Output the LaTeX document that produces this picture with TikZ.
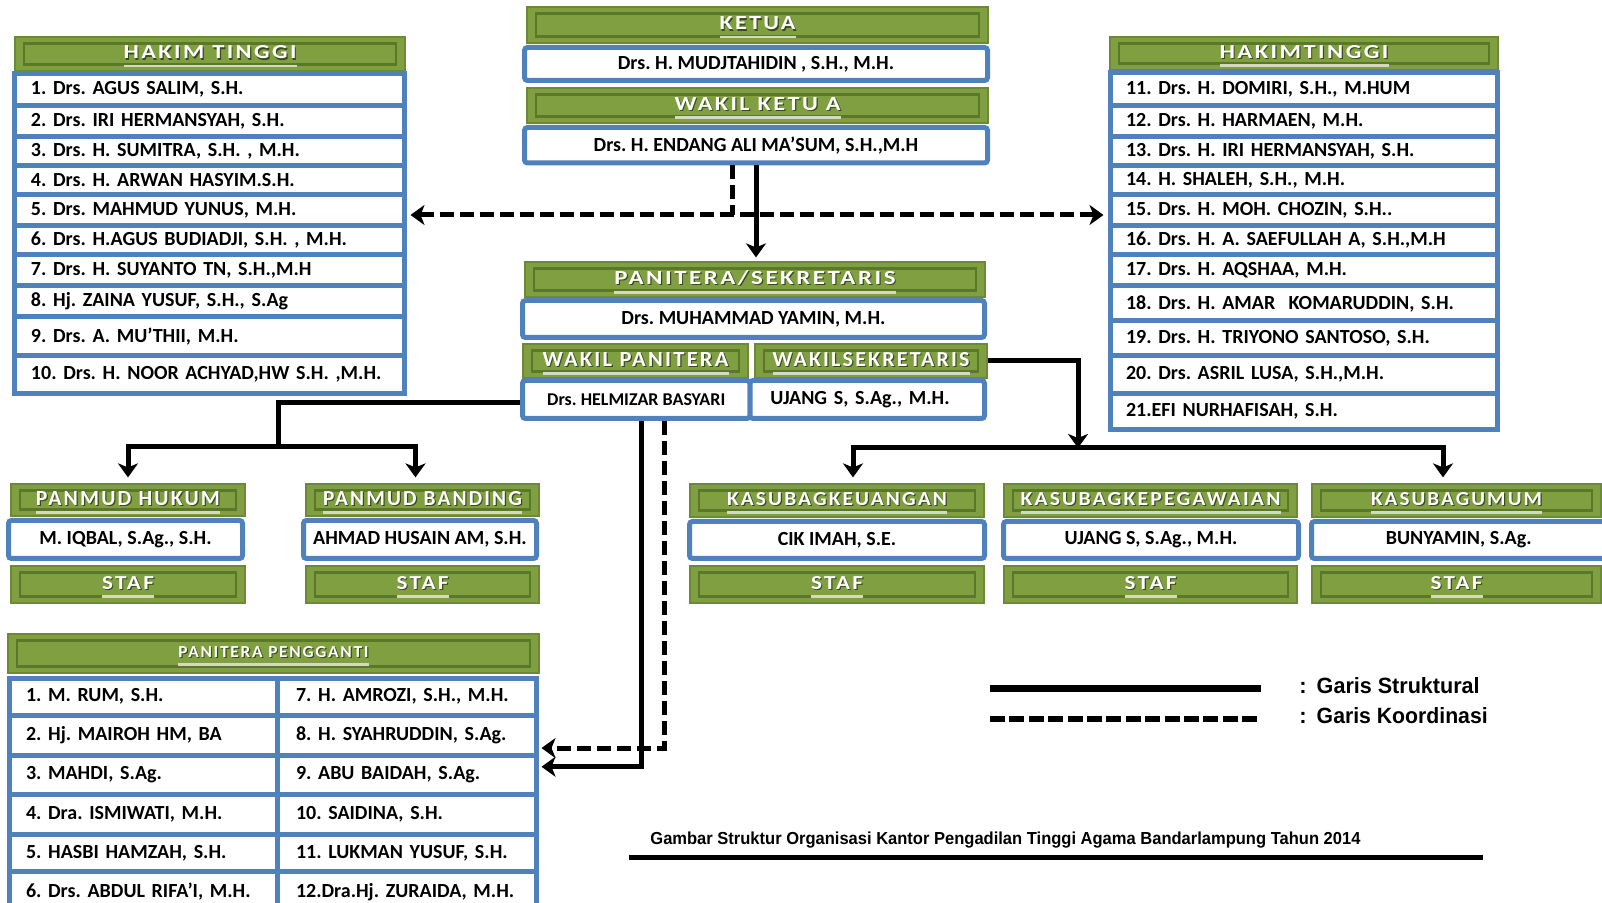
\documentclass[tikz,border=0pt]{standalone}
\usepackage{fontspec}
\usepackage{graphicx}
\setmainfont{Carlito}
\newfontfamily\legfont{Liberation Sans}
\usetikzlibrary{arrows.meta}
\frenchspacing
\definecolor{hgreen}{HTML}{7F9F40}
\definecolor{hdark}{HTML}{5B782A}
\definecolor{hedge}{HTML}{6C8A36}
\definecolor{hshadow}{HTML}{3A4A1E}
\definecolor{nblue}{HTML}{4F81BD}
\definecolor{ulc}{HTML}{D4D9C4}
\newsavebox\hdbox
\newsavebox\hdboxs
\newcommand\hd[3][6.5pt]{\sbox\hdbox{\color{white}\resizebox{#2}{#1}{\bfseries\addfontfeature{LetterSpace=10}#3}}\sbox\hdboxs{\color{hshadow}\resizebox{#2}{#1}{\bfseries\addfontfeature{LetterSpace=10}#3}}\vbox{\kern2.6pt\hbox{\rlap{\kern0.6pt\raisebox{-0.6pt}{\usebox\hdboxs}}\usebox\hdbox}\kern2.2pt{\color{ulc}\hrule height 1.4pt width \wd\hdbox}}}
\tikzset{
 bx/.style args={#1/#2/#3/#4}{at={({(#1+#3)/2},{(#2+#4)/2})}, minimum width={(#3-#1)*0.5pt}, minimum height={(#4-#2)*0.5pt}},
 hdr/.style={fill=hgreen, draw=hedge, line width=0.6pt, inner sep=0pt,
   path picture={\draw[hdark,line width=1.4pt] ([shift={(4.5pt,-3.2pt)}]path picture bounding box.north west) rectangle ([shift={(-4.5pt,3.2pt)}]path picture bounding box.south east);}},
 nbox/.style={draw=nblue, line width=2.5pt, fill=white, inner sep=0pt, rounded corners=1.5pt, font=\bfseries},
 lrow/.style={draw=nblue, line width=2.5pt, fill=white, inner sep=0pt, align=left, font=\bfseries},
 cl/.style={line width=2.5pt, black},
 cd/.style={cl, dash pattern=on 7pt off 3pt},
}
\begin{document}
\begin{tikzpicture}[x=0.5pt,y=-0.5pt,>={Stealth[length=7pt,width=10pt,inset=2pt]}]
\fill[white] (0,0) rectangle (1602,903);
\useasboundingbox (0,0) rectangle (1602,903);

% ---- Hakim Tinggi left
\node[hdr, bx=15/37/405/71] (hlh) {\hd{86.5pt}{HAKIM TINGGI}};
\foreach \n/\ya/\yb/\t in {
 1/74/105.5/{1. Drs. AGUS SALIM, S.H.},
 2/105.5/137/{2. Drs. IRI HERMANSYAH, S.H.},
 3/137/166/{3. Drs. H. SUMITRA, S.H. , M.H.},
 4/166/194.5/{4. Drs. H. ARWAN HASYIM.S.H.},
 5/194.5/225.5/{5. Drs. MAHMUD YUNUS, M.H.},
 6/225.5/255/{6. Drs. H.AGUS BUDIADJI, S.H. , M.H.},
 7/255/286/{7. Drs. H. SUYANTO TN, S.H.,M.H},
 8/286/317/{8. Hj. ZAINA YUSUF, S.H., S.Ag},
 9/317/355.5/{9. Drs. A. MU'THII, M.H.},
 10/355.5/394/{10. Drs. H. NOOR ACHYAD,HW S.H. ,M.H.}}
 {\node[lrow, text width=178pt, bx=14/\ya/404/\yb] (hl\n) {\t};}

% ---- Hakim Tinggi right
\node[hdr, bx=1110/37/1498/70] (hrh) {\hd{84.5pt}{HAKIMTINGGI}};
\foreach \n/\ya/\yb/\t in {
 1/73/105.5/{11. Drs. H. DOMIRI, S.H., M.HUM},
 2/105.5/137/{12. Drs. H. HARMAEN, M.H.},
 3/137/166/{13. Drs. H. IRI HERMANSYAH, S.H.},
 4/166/195/{14. H. SHALEH, S.H., M.H.},
 5/195/226/{15. Drs. H. MOH. CHOZIN, S.H..},
 6/226/255/{16. Drs. H. A. SAEFULLAH A, S.H.,M.H},
 7/255/286/{17. Drs. H. AQSHAA, M.H.},
 8/286/321/{18. Drs. H. AMAR\ \ KOMARUDDIN, S.H.},
 9/321/356/{19. Drs. H. TRIYONO SANTOSO, S.H.},
 10/356/393.5/{20. Drs. ASRIL LUSA, S.H.,M.H.},
 11/393.5/430/{21.EFI NURHAFISAH, S.H.}}
 {\node[lrow, text width=177.5pt, bx=1110/\ya/1497/\yb] (hr\n) {\t};}

% ---- Ketua / Wakil
\node[hdr, bx=527/7/988/43] (kh) {\hd{38pt}{KETUA}};
\node[nbox, bx=524.5/47.5/987.5/80.5] (kn) {Drs. H. MUDJTAHIDIN , S.H., M.H.};
\node[hdr, bx=527/88/988/123] (wkh) {\hd{83pt}{WAKIL KETU A}};
\node[nbox, bx=524.5/127.5/987.5/163] (wk) {Drs. H. ENDANG ALI MA'SUM, S.H.,M.H};

% ---- Panitera / Sekretaris
\node[hdr, bx=525/262/985/297] (psh) {\hd[7pt]{140.5pt}{PANITERA/SEKRETARIS}};
\node[nbox, bx=522.5/300.5/984.5/337.5] (psn) {Drs. MUHAMMAD YAMIN, M.H.};
\node[hdr, bx=523/344/748/378] (wph) {\hd[7pt]{93pt}{WAKIL PANITERA}};
\node[hdr, bx=755/344/987/378] (wsh) {\hd[7pt]{98.5pt}{WAKILSEKRETARIS}};
\node[nbox, font=\bfseries\fontsize{9}{10}\selectfont, bx=522.5/380.5/750/418.5] (hz) {Drs. HELMIZAR BASYARI};
\node[nbox, align=left, text width=97pt, bx=750/380.5/984.5/418.5] (uj) {UJANG S, S.Ag., M.H.};

% ---- Panmud
\node[hdr, bx=11/484/245/516] (hkh) {\hd[7pt]{92pt}{PANMUD HUKUM}};
\node[nbox, bx=8.5/520.5/242.5/558.5] (hkn) {M. IQBAL, S.Ag., S.H.};
\node[hdr, bx=11/566/245/603] (hks) {\hd{26pt}{STAF}};
\node[hdr, bx=306/484/539/516] (bdh) {\hd[7pt]{99.5pt}{PANMUD BANDING}};
\node[nbox, bx=303.5/520.5/536.5/558.5] (bdn) {AHMAD HUSAIN AM, S.H.};
\node[hdr, bx=306/566/539/603] (bds) {\hd{26pt}{STAF}};

% ---- Kasubag
\node[hdr, bx=690/484/984/517] (kuh) {\hd{110pt}{KASUBAGKEUANGAN}};
\node[nbox, bx=689.5/521.5/984.5/558.5] (kun) {CIK IMAH, S.E.};
\node[hdr, bx=690/566/984/603] (kus) {\hd{26pt}{STAF}};
\node[hdr, bx=1004/484/1297/517] (kph) {\hd{130pt}{KASUBAGKEPEGAWAIAN}};
\node[nbox, bx=1003.5/521.5/1298.5/558.5] (kpn) {UJANG S, S.Ag., M.H.};
\node[hdr, bx=1004/566/1297/603] (kps) {\hd{26pt}{STAF}};
\node[hdr, bx=1312/484/1601/517] (umh) {\hd{85.5pt}{KASUBAGUMUM}};
\node[nbox, bx=1311.5/521.5/1606/558.5] (umn) {BUNYAMIN, S.Ag.};
\node[hdr, bx=1312/566/1601/603] (ums) {\hd{26pt}{STAF}};

% ---- Panitera Pengganti
\node[hdr, bx=8/634/539/673] (pph) {\hd[5.5pt]{95pt}{PANITERA PENGGANTI}};
\foreach \n/\ya/\yb/\ta/\tb in {
 1/678/715.5/{1. M. RUM, S.H.}/{7. H. AMROZI, S.H., M.H.},
 2/715.5/755/{2. Hj. MAIROH HM, BA}/{8. H. SYAHRUDDIN, S.Ag.},
 3/755/794.5/{3. MAHDI, S.Ag.}/{9. ABU BAIDAH, S.Ag.},
 4/794.5/834.5/{4. Dra. ISMIWATI, M.H.}/{10. SAIDINA, S.H.},
 5/834.5/871.5/{5. HASBI HAMZAH, S.H.}/{11. LUKMAN YUSUF, S.H.},
 6/871.5/912/{6. Drs. ABDUL RIFA'I, M.H.}/{12.Dra.Hj. ZURAIDA, M.H.}}
 {\node[lrow, text width=117pt, bx=9/\ya/277/\yb] (pl\n) {\ta};
  \node[lrow, text width=110.5pt, bx=277/\ya/536/\yb] (pr\n) {\tb};}

% ---- connectors
\coordinate (kx) at (732,215);
\draw[cl,->,shorten >=2pt] (wk.south) -- (wk.south |- psh.north);
\draw[cd] (wk.south -| kx) -- (kx);
\draw[cd,<->,shorten <=2pt,shorten >=2pt] (hl5.east |- kx) -- (hr5.west |- kx);

\coordinate (jl) at (278,447);
\draw[cl] ([yshift=-1.5pt]hz.west) -| (jl);
\draw[cl,<->,shorten <=3pt,shorten >=3pt] (hkh.north) |- (jl) -| ([xshift=-3.5pt]bdh.north);

\coordinate (jr) at (1078,448);
\draw[cl,->] (wsh.east) -| (jr);
\draw[cl,<->,shorten <=3pt,shorten >=3pt] ([xshift=8pt]kuh.north) |- (jr) -| ([xshift=-6.75pt]umh.north);

\draw[cl,->,shorten >=1.5pt] ([xshift=2.5pt]hz.south) |- ([yshift=4pt]pr3.east);
\draw[cd,->,shorten >=1.5pt] ([xshift=14pt]hz.south) |- ([yshift=-6.4pt]pr2.east);

% ---- legend
\coordinate (ls1) at (990,688); \coordinate (ls2) at (1261,688);
\coordinate (ld1) at (990,719); \coordinate (ld2) at (1261,719);
\draw[line width=3.5pt] (ls1) -- (ls2);
\draw[line width=3.2pt, dash pattern=on 7.5pt off 2.2pt] (ld1) -- (ld2);
\node[anchor=base west, inner sep=0pt, font=\legfont\bfseries\fontsize{11}{12}\selectfont] (lg1) at (1299,693) {:\hskip 5pt\resizebox{81.5pt}{8pt}{Garis Struktural}};
\node[anchor=base west, inner sep=0pt, font=\legfont\bfseries\fontsize{11}{12}\selectfont] (lg2) at (1299,723) {:\hskip 5pt\resizebox{85.5pt}{8pt}{Garis Koordinasi}};

% ---- caption
\node[anchor=base west, inner sep=0pt, font=\legfont\bfseries] (cap) at (650,844) {\resizebox{355pt}{6.3pt}{Gambar Struktur Organisasi Kantor Pengadilan Tinggi Agama Bandarlampung Tahun 2014}};
\coordinate (cu1) at (629,857); \coordinate (cu2) at (1483,857);
\draw[line width=2.5pt] (cu1) -- (cu2);
\end{tikzpicture}
\end{document}
